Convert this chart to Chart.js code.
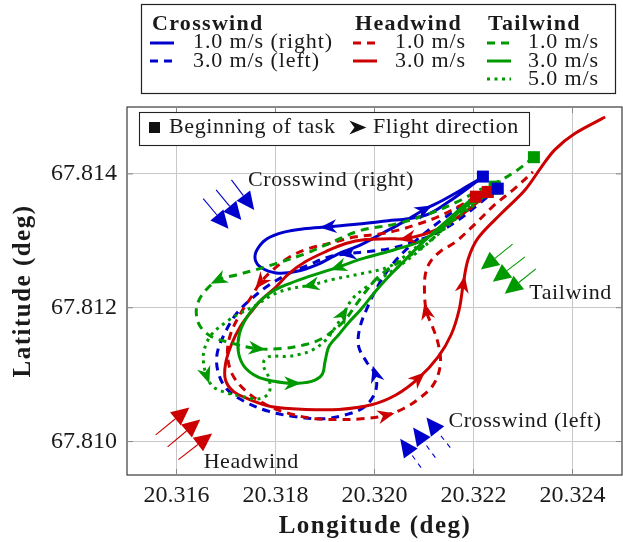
<!DOCTYPE html>
<html>
<head>
<meta charset="utf-8">
<script src="https://cdn.jsdelivr.net/npm/chart.js@4.4.1/dist/chart.umd.min.js"></script>
<style>
  html, body { margin: 0; padding: 0; background: #fff; }
  canvas { display: block; }
</style>
</head>
<body>
<canvas id="chart" width="623" height="542"></canvas>
<script>
// ticks
const lonTicks = [20.316, 20.318, 20.320, 20.322, 20.324];
const latTicks = [67.810, 67.812, 67.814];

// Crosswind 1.0 m/s (right)
const cw1Lon = [20.32219, 20.32189, 20.32149, 20.32109, 20.32068, 20.32028, 20.31968, 20.31908, 20.31857, 20.31817, 20.31783, 20.31763, 20.31759, 20.31771, 20.31801, 20.31841, 20.31883, 20.31928, 20.31972, 20.32018, 20.32058, 20.32099, 20.32139, 20.32175, 20.32209];
const cw1Lat = [67.81396, 67.81379, 67.81358, 67.81340, 67.81333, 67.81330, 67.81325, 67.81321, 67.81318, 67.81313, 67.81303, 67.81287, 67.81272, 67.81260, 67.81252, 67.81254, 67.81264, 67.81281, 67.81294, 67.81312, 67.81328, 67.81346, 67.81361, 67.81376, 67.81391];
const cw1Arrows = [7, 21];

// Crosswind 3.0 m/s (left)
const cw3Lon = [20.32249, 20.32209, 20.32169, 20.32129, 20.32078, 20.32028, 20.31988, 20.31948, 20.31908, 20.31867, 20.31827, 20.31787, 20.31751, 20.31721, 20.31697, 20.31682, 20.31684, 20.31701, 20.31737, 20.31787, 20.31841, 20.31895, 20.31942, 20.31980, 20.32002, 20.32002, 20.31984, 20.31968, 20.31970, 20.31986, 20.32008, 20.32032, 20.32064, 20.32099, 20.32139, 20.32179, 20.32219];
const cw3Lat = [67.81378, 67.81354, 67.81331, 67.81313, 67.81298, 67.81288, 67.81284, 67.81281, 67.81276, 67.81264, 67.81251, 67.81234, 67.81213, 67.81191, 67.81161, 67.81131, 67.81104, 67.81079, 67.81060, 67.81045, 67.81037, 67.81034, 67.81040, 67.81052, 67.81075, 67.81100, 67.81119, 67.81142, 67.81169, 67.81201, 67.81234, 67.81261, 67.81287, 67.81310, 67.81333, 67.81354, 67.81370];
const cw3Arrows = [7, 25];

// Headwind 1.0 m/s
const hw1Lon = [20.32205, 20.32169, 20.32129, 20.32088, 20.32048, 20.32008, 20.31962, 20.31914, 20.31861, 20.31827, 20.31797, 20.31771, 20.31751, 20.31729, 20.31709, 20.31703, 20.31713, 20.31741, 20.31781, 20.31827, 20.31881, 20.31928, 20.31974, 20.32022, 20.32058, 20.32088, 20.32119, 20.32133, 20.32129, 20.32117, 20.32105, 20.32101, 20.32103, 20.32113, 20.32133, 20.32163, 20.32203, 20.32243, 20.32283, 20.32320];
const hw1Lat = [67.81366, 67.81351, 67.81336, 67.81325, 67.81316, 67.81310, 67.81306, 67.81297, 67.81287, 67.81275, 67.81258, 67.81239, 67.81216, 67.81191, 67.81160, 67.81130, 67.81100, 67.81075, 67.81055, 67.81042, 67.81034, 67.81033, 67.81034, 67.81039, 67.81049, 67.81063, 67.81085, 67.81115, 67.81145, 67.81172, 67.81194, 67.81224, 67.81251, 67.81269, 67.81284, 67.81298, 67.81325, 67.81354, 67.81378, 67.81403];
const hw1Arrows = [11, 23, 30];

// Headwind 3.0 m/s
const hw3Lon = [20.32229, 20.32189, 20.32129, 20.32068, 20.32028, 20.31982, 20.31942, 20.31902, 20.31861, 20.31827, 20.31801, 20.31773, 20.31751, 20.31729, 20.31711, 20.31699, 20.31699, 20.31715, 20.31747, 20.31793, 20.31861, 20.31928, 20.31994, 20.32044, 20.32088, 20.32129, 20.32155, 20.32171, 20.32179, 20.32189, 20.32209, 20.32255, 20.32304, 20.32336, 20.32364, 20.32404, 20.32466];
const hw3Lat = [67.81373, 67.81346, 67.81318, 67.81304, 67.81303, 67.81302, 67.81296, 67.81284, 67.81269, 67.81251, 67.81231, 67.81213, 67.81194, 67.81172, 67.81145, 67.81116, 67.81092, 67.81075, 67.81063, 67.81052, 67.81048, 67.81048, 67.81055, 67.81070, 67.81094, 67.81127, 67.81160, 67.81197, 67.81234, 67.81272, 67.81304, 67.81340, 67.81376, 67.81409, 67.81436, 67.81460, 67.81485];
const hw3Arrows = [3, 24, 28];

// Tailwind 1.0 m/s
const tw1Lon = [20.32322, 20.32289, 20.32249, 20.32209, 20.32175, 20.32109, 20.32042, 20.31974, 20.31914, 20.31861, 20.31801, 20.31761, 20.31721, 20.31686, 20.31660, 20.31644, 20.31640, 20.31648, 20.31670, 20.31707, 20.31761, 20.31813, 20.31861, 20.31894, 20.31922, 20.31942, 20.31962, 20.31982, 20.32002, 20.32028, 20.32068, 20.32109, 20.32149, 20.32189, 20.32229];
const tw1Lat = [67.81425, 67.81406, 67.81388, 67.81375, 67.81361, 67.81340, 67.81325, 67.81316, 67.81298, 67.81281, 67.81266, 67.81257, 67.81249, 67.81242, 67.81227, 67.81209, 67.81191, 67.81172, 67.81157, 67.81148, 67.81139, 67.81139, 67.81145, 67.81154, 67.81169, 67.81183, 67.81204, 67.81224, 67.81242, 67.81258, 67.81276, 67.81298, 67.81325, 67.81351, 67.81373];
const tw1Arrows = [13, 20];

// Tailwind 3.0 m/s
const tw3Lon = [20.32243, 20.32209, 20.32175, 20.32135, 20.32095, 20.32042, 20.31974, 20.31928, 20.31861, 20.31821, 20.31793, 20.31767, 20.31743, 20.31727, 20.31725, 20.31737, 20.31763, 20.31797, 20.31833, 20.31873, 20.31894, 20.31900, 20.31908, 20.31928, 20.31948, 20.31972, 20.31998, 20.32024, 20.32052, 20.32088, 20.32143, 20.32195, 20.32239];
const tw3Lat = [67.81381, 67.81364, 67.81346, 67.81319, 67.81300, 67.81287, 67.81273, 67.81261, 67.81245, 67.81234, 67.81224, 67.81209, 67.81187, 67.81161, 67.81134, 67.81112, 67.81097, 67.81090, 67.81087, 67.81090, 67.81100, 67.81119, 67.81142, 67.81160, 67.81178, 67.81197, 67.81221, 67.81243, 67.81264, 67.81291, 67.81328, 67.81361, 67.81382];
const tw3Arrows = [7, 18];

// Tailwind 5.0 m/s
const tw5Lon = [20.32243, 20.32205, 20.32159, 20.32109, 20.32068, 20.32028, 20.31974, 20.31914, 20.31873, 20.31827, 20.31793, 20.31761, 20.31727, 20.31701, 20.31672, 20.31658, 20.31654, 20.31660, 20.31674, 20.31701, 20.31735, 20.31767, 20.31787, 20.31787, 20.31775, 20.31787, 20.31821, 20.31847, 20.31875, 20.31902, 20.31922, 20.31936, 20.31954, 20.31978, 20.32008, 20.32048, 20.32088, 20.32129, 20.32169, 20.32209, 20.32239];
const tw5Lat = [67.81378, 67.81358, 67.81336, 67.81306, 67.81281, 67.81261, 67.81251, 67.81242, 67.81234, 67.81228, 67.81219, 67.81204, 67.81191, 67.81179, 67.81161, 67.81142, 67.81124, 67.81100, 67.81082, 67.81073, 67.81067, 67.81064, 67.81073, 67.81094, 67.81116, 67.81127, 67.81127, 67.81130, 67.81137, 67.81152, 67.81172, 67.81189, 67.81212, 67.81228, 67.81242, 67.81261, 67.81284, 67.81310, 67.81336, 67.81358, 67.81375];
const tw5Arrows = [8, 17, 31];

// wind direction arrows: [tailLon, tailLat, tipLon, tipLat]
const windRight = [[20.31654, 67.81363, 20.31705, 67.81318], [20.31680, 67.81376, 20.31731, 67.81331], [20.31711, 67.81391, 20.31757, 67.81346]];
const windTail = [[20.32279, 67.81295, 20.32215, 67.81257], [20.32304, 67.81276, 20.32239, 67.81239], [20.32326, 67.81258, 20.32263, 67.81221]];
const windLeft = [[20.32094, 67.80961, 20.32052, 67.81004], [20.32123, 67.80976, 20.32078, 67.81021], [20.32153, 67.80991, 20.32105, 67.81036]];
const windHead = [[20.31558, 67.81010, 20.31626, 67.81051], [20.31582, 67.80992, 20.31648, 67.81033], [20.31604, 67.80973, 20.31672, 67.81012]];

// labels: [text, centre lon, baseline lat]
const windLabels = [
  ['Crosswind (right)', 20.31912, 67.81382],
  ['Tailwind', 20.32396, 67.81213],
  ['Crosswind (left)', 20.32304, 67.81021],
  ['Headwind', 20.31751, 67.80961]
];

const BLUE = '#0000cc', RED = '#cc0000', GREEN = '#009900';
const DASH = [8, 6], DOT = [3, 4.5];
const SERIF = '"Liberation Serif", "Times New Roman", serif';
Chart.defaults.font.family = SERIF;

function track(lon, lat, color, dash, arrows) {
  return {
    data: lon.map((x, i) => ({ x: x, y: lat[i] })),
    showLine: true,
    borderColor: color,
    borderWidth: 3,
    borderDash: dash,
    borderCapStyle: 'butt',
    pointRadius: 0,
    tension: 0.35,
    fill: false,
    arrows: arrows
  };
}

function spacing(ctx, px) {
  if ('letterSpacing' in ctx) ctx.letterSpacing = px + 'px';
}

function stealth(ctx, x, y, ang, color) {
  const len = 17, wid = 14;
  ctx.save();
  ctx.translate(x, y);
  ctx.rotate(ang);
  ctx.fillStyle = color;
  ctx.beginPath();
  ctx.moveTo(len * 0.55, 0);
  ctx.lineTo(-len * 0.45, -wid / 2);
  ctx.lineTo(-len * 0.15, 0);
  ctx.lineTo(-len * 0.45, wid / 2);
  ctx.closePath();
  ctx.fill();
  ctx.restore();
}

function windArrow(ctx, x1, y1, x2, y2, color, dashed) {
  const ang = Math.atan2(y2 - y1, x2 - x1);
  const hl = 18, hw = 8.5;
  const bx = x2 - hl * Math.cos(ang), by = y2 - hl * Math.sin(ang);
  ctx.save();
  ctx.strokeStyle = color;
  ctx.lineWidth = 1.1;
  ctx.setLineDash(dashed ? [5, 5] : []);
  ctx.beginPath();
  ctx.moveTo(x1, y1);
  ctx.lineTo(bx, by);
  ctx.stroke();
  ctx.setLineDash([]);
  ctx.fillStyle = color;
  ctx.beginPath();
  ctx.moveTo(x2, y2);
  ctx.lineTo(bx + hw * Math.sin(ang), by - hw * Math.cos(ang));
  ctx.lineTo(bx - hw * Math.sin(ang), by + hw * Math.cos(ang));
  ctx.closePath();
  ctx.fill();
  ctx.restore();
}

function sample(ctx, x, y, color, dash) {
  ctx.save();
  ctx.strokeStyle = color;
  ctx.lineWidth = 3;
  ctx.setLineDash(dash);
  ctx.beginPath();
  ctx.moveTo(x, y);
  ctx.lineTo(x + 24, y);
  ctx.stroke();
  ctx.restore();
}

const decor = {
  id: 'decor',
  afterDatasetsDraw(chart) {
    const ctx = chart.ctx;
    const xs = chart.scales.x, ys = chart.scales.y;
    const a = chart.chartArea;

    // direction arrows + start squares
    chart.data.datasets.forEach((ds, di) => {
      const pts = chart.getDatasetMeta(di).data;
      ds.arrows.forEach(i => {
        const p = pts[i], q = pts[i - 1], r = pts[i + 1];
        stealth(ctx, p.x, p.y, Math.atan2(r.y - q.y, r.x - q.x), ds.borderColor);
      });
    });
    chart.data.datasets.forEach((ds, di) => {
      const p = chart.getDatasetMeta(di).data[0];
      ctx.fillStyle = ds.borderColor;
      ctx.fillRect(p.x - 6, p.y - 6, 12, 12);
    });

    // wind arrows
    const wind = (list, color, dashed) => list.forEach(w =>
      windArrow(ctx, xs.getPixelForValue(w[0]), ys.getPixelForValue(w[1]),
        xs.getPixelForValue(w[2]), ys.getPixelForValue(w[3]), color, dashed));
    wind(windRight, BLUE, false);
    wind(windTail, GREEN, false);
    wind(windLeft, BLUE, true);
    wind(windHead, RED, false);

    ctx.save();
    ctx.fillStyle = '#1a1a1a';
    ctx.font = '22px ' + SERIF;
    spacing(ctx, 0.6);
    ctx.textAlign = 'center';
    ctx.textBaseline = 'alphabetic';
    windLabels.forEach(l => ctx.fillText(l[0], xs.getPixelForValue(l[1]), ys.getPixelForValue(l[2])));
    ctx.restore();

    // frame and inner ticks
    ctx.save();
    ctx.strokeStyle = '#3a3a3a';
    ctx.lineWidth = 1.2;
    ctx.strokeRect(a.left, a.top, a.right - a.left, a.bottom - a.top);
    ctx.strokeStyle = '#888';
    ctx.lineWidth = 1;
    ctx.beginPath();
    lonTicks.forEach(v => {
      const x = xs.getPixelForValue(v);
      ctx.moveTo(x, a.bottom); ctx.lineTo(x, a.bottom - 6);
      ctx.moveTo(x, a.top); ctx.lineTo(x, a.top + 6);
    });
    latTicks.forEach(v => {
      const y = ys.getPixelForValue(v);
      ctx.moveTo(a.left, y); ctx.lineTo(a.left + 6, y);
      ctx.moveTo(a.right, y); ctx.lineTo(a.right - 6, y);
    });
    ctx.stroke();
    ctx.restore();

    // inner legend
    ctx.save();
    ctx.fillStyle = '#fff';
    ctx.fillRect(139.5, 112.5, 390, 33);
    ctx.strokeStyle = '#222';
    ctx.lineWidth = 1.1;
    ctx.strokeRect(139.5, 112.5, 390, 33);
    ctx.fillStyle = '#111';
    ctx.fillRect(149, 122, 11, 11);
    stealth(ctx, 357, 127.5, 0, '#111');
    ctx.fillStyle = '#1a1a1a';
    ctx.font = '22px ' + SERIF;
    spacing(ctx, 0.6);
    ctx.textBaseline = 'alphabetic';
    ctx.fillText('Beginning of task', 169, 133);
    ctx.fillText('Flight direction', 373, 133);
    ctx.restore();
  },
  afterDraw(chart) {
    const ctx = chart.ctx;
    ctx.save();
    // top legend
    ctx.strokeStyle = '#222';
    ctx.lineWidth = 1.2;
    ctx.strokeRect(141.5, 4.5, 474, 89);
    ctx.fillStyle = '#1a1a1a';
    ctx.textBaseline = 'alphabetic';
    ctx.font = 'bold 22px ' + SERIF;
    spacing(ctx, 1.3);
    ctx.fillText('Crosswind', 152, 30);
    ctx.fillText('Headwind', 355, 30);
    ctx.fillText('Tailwind', 488, 30);
    ctx.font = '22px ' + SERIF;
    spacing(ctx, 0.9);
    sample(ctx, 150, 43, BLUE, []);
    sample(ctx, 150, 61, BLUE, DASH);
    ctx.fillText('1.0 m/s (right)', 193, 48);
    ctx.fillText('3.0 m/s (left)', 193, 66.5);
    sample(ctx, 353, 43, RED, DASH);
    sample(ctx, 353, 61, RED, []);
    ctx.fillText('1.0 m/s', 395, 48);
    ctx.fillText('3.0 m/s', 395, 66.5);
    sample(ctx, 487, 43, GREEN, DASH);
    sample(ctx, 487, 61, GREEN, []);
    sample(ctx, 487, 79, GREEN, DOT);
    ctx.fillText('1.0 m/s', 528, 48);
    ctx.fillText('3.0 m/s', 528, 66.5);
    ctx.fillText('5.0 m/s', 528, 85);

    // axis titles
    ctx.font = 'bold 25px ' + SERIF;
    spacing(ctx, 1.5);
    ctx.textAlign = 'center';
    ctx.fillText('Longitude (deg)', 375, 533);
    ctx.translate(30, 291);
    ctx.rotate(-Math.PI / 2);
    ctx.fillText('Latitude (deg)', 0, 0);
    ctx.restore();
  }
};

new Chart(document.getElementById('chart'), {
  type: 'scatter',
  data: {
    datasets: [
      track(tw3Lon, tw3Lat, GREEN, [], tw3Arrows),
      track(tw1Lon, tw1Lat, GREEN, DASH, tw1Arrows),
      track(tw5Lon, tw5Lat, GREEN, DOT, tw5Arrows),
      track(hw3Lon, hw3Lat, RED, [], hw3Arrows),
      track(hw1Lon, hw1Lat, RED, DASH, hw1Arrows),
      track(cw1Lon, cw1Lat, BLUE, [], cw1Arrows),
      track(cw3Lon, cw3Lat, BLUE, DASH, cw3Arrows)
    ]
  },
  options: {
    responsive: false,
    animation: false,
    events: [],
    layout: { padding: { top: 107, right: 1, left: 0, bottom: 0 } },
    plugins: { legend: { display: false }, tooltip: { enabled: false } },
    scales: {
      x: {
        type: 'linear',
        min: 20.315,
        max: 20.325,
        afterBuildTicks: s => { s.ticks = lonTicks.map(v => ({ value: v })); },
        afterFit: s => { s.height = 67; },
        ticks: {
          callback: v => v.toFixed(3),
          color: '#1a1a1a',
          font: { family: SERIF, size: 24 },
          padding: 6,
          maxRotation: 0
        },
        grid: { color: '#c8c8c8', lineWidth: 1, drawTicks: false },
        border: { display: false }
      },
      y: {
        type: 'linear',
        min: 67.8095,
        max: 67.815,
        afterBuildTicks: s => { s.ticks = latTicks.map(v => ({ value: v })); },
        afterFit: s => { s.width = 127; },
        ticks: {
          callback: v => v.toFixed(3),
          color: '#1a1a1a',
          font: { family: SERIF, size: 24 },
          padding: 10
        },
        grid: { color: '#c8c8c8', lineWidth: 1, drawTicks: false },
        border: { display: false }
      }
    }
  },
  plugins: [decor]
});
</script>
</body>
</html>
